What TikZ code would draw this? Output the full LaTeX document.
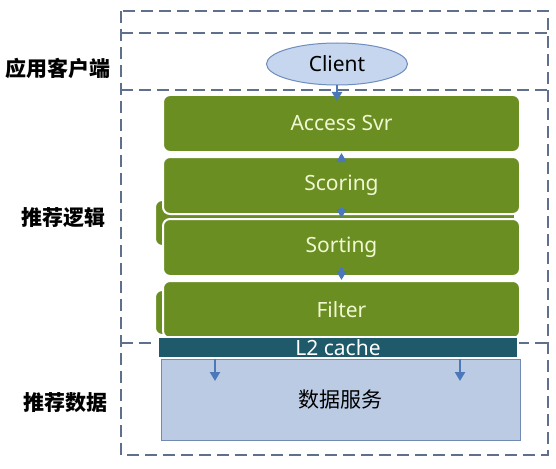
\documentclass[tikz,border=0pt]{standalone}
\usepackage{fontspec}
\setmainfont{Noto Sans}
\newfontfamily\cjk{Noto Sans CJK SC}
\usetikzlibrary{arrows.meta}
\usetikzlibrary{shapes.geometric}
\usetikzlibrary{positioning}
\definecolor{leaf}{RGB}{107,142,35}
\definecolor{deepteal}{RGB}{30,90,106}
\definecolor{pale}{RGB}{187,203,228}
\definecolor{sky}{RGB}{197,214,238}
\definecolor{rim}{RGB}{110,140,190}
\definecolor{dashgray}{RGB}{95,112,140}
\definecolor{flow}{RGB}{75,120,185}
\definecolor{cream}{RGB}{240,248,210}

\begin{document}
\begin{tikzpicture}[x=1pt,y=-1pt,
    node distance=3pt,
    stage/.style={rectangle,rounded corners=7pt,draw=white,line width=2pt,fill=leaf,text=cream,
      minimum width=357pt,minimum height=57pt,font=\fontsize{21}{24}\selectfont},
    layer/.style={draw=dashgray,dash pattern=on 12pt off 6pt,line width=1.5pt},
    tag/.style={font=\cjk\bfseries\fontsize{21}{24}\selectfont},
    flowarr/.style={-{Triangle[width=10pt,length=9pt]},flow,line width=2.5pt}
    ]
    \useasboundingbox (0,0) rectangle (556,468);

    % dashed layers
    \draw[layer] (121,11) rectangle (548,455);
    \draw[layer] (121,33) -- (548,33);
    \draw[layer] (121,90) -- (548,90);
    \draw[layer] (121,343) -- (548,343);

    % boxes stacked behind
    \draw[white,line width=2pt,fill=leaf,rounded corners=7pt] (155,200) rectangle (515,246);
    \draw[white,line width=2pt,fill=leaf,rounded corners=7pt] (155,290) rectangle (515,335);

    \node[ellipse,draw=rim,line width=1pt,fill=sky,minimum width=141pt,minimum height=42pt,
      font=\fontsize{21}{24}\selectfont] (client) at (337,64) {Client};

    \node[stage] (access) at (341.5,123.5) {Access Svr};
    \node[stage] (scoring) [below = of access] {Scoring};
    \node[stage] (sorting) [below = of scoring] {Sorting};
    \node[stage] (filter) [below = of sorting] {Filter};

    \node[rectangle,draw=white,line width=2pt,fill=deepteal,text=white,minimum width=360pt,
      minimum height=21pt,inner sep=0pt,font=\fontsize{21}{24}\selectfont] (l2) at (338,347.5) {L2 cache};
    \node[rectangle,draw=rim!80!gray,line width=0.8pt,fill=pale,minimum width=359pt,minimum height=81pt,
      font=\cjk\fontsize{21}{24}\selectfont] (data) at (340.5,399.5) {数据服务};

    \coordinate (d1) at (215,381);
    \coordinate (d2) at (460,381);

    \draw[flowarr] (client.south) -- ([yshift=-7pt]client.south |- access.north);
    \draw[flowarr] ([yshift=-6pt]scoring.north) -- (scoring.north |- access.south);
    \draw[flowarr] ([yshift=7pt]scoring.south) -- (sorting.north);
    \draw[flowarr] ([yshift=9pt]sorting.south) -- (filter.north);
    \draw[flowarr] (l2.south -| d1) -- (d1);
    \draw[flowarr] (l2.south -| d2) -- (d2);

    \node[tag] (appside) at (58,68) {应用客户端};
    \node[tag] (logic) at (63,218) {推荐逻辑};
    \node[tag] (recdata) at (65,403) {推荐数据};
\end{tikzpicture}
\end{document}
